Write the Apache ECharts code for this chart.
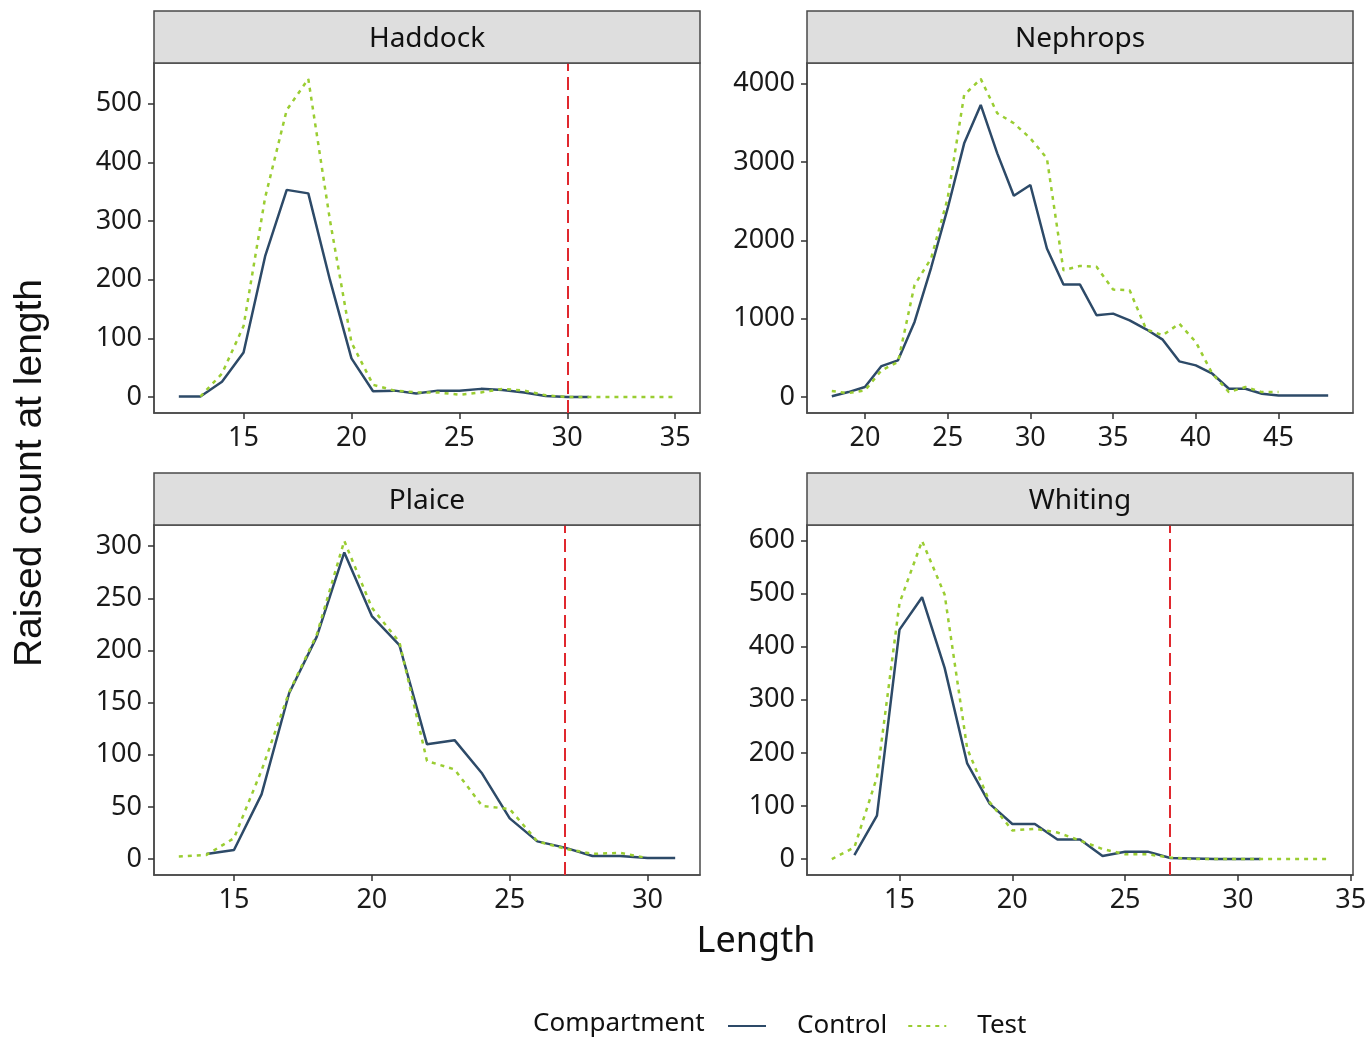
<!DOCTYPE html>
<html><head><meta charset="utf-8">
<script src="https://cdn.jsdelivr.net/npm/echarts@6/dist/echarts.min.js"></script>
<style>html,body{margin:0;padding:0;background:#fff}#c{width:1370px;height:1038px}</style>
</head><body><div id="c"></div>
<script>
// ---------- DATA ----------
const panelNames = ['Haddock', 'Nephrops', 'Plaice', 'Whiting'];
const seriesNames = ['Control', 'Test'];

const haddockControlLen = [12,13,14,15,16,17,18,19,20,21,22,23,24,25,26,27,28,29,30,31];
const haddockControl    = [1,1,26,76,240,353,347,200,66,10,11,6,11,11,14,12,8,2,0,0];
const haddockTestLen    = [13,14,15,16,17,18,19,20,21,22,23,24,25,26,27,28,29,30,31,32,33,34,35];
const haddockTest       = [1,40,121,340,489,542,302,93,21,11,8,8,4,8,14,11,3,0,0,0,0,0,0];

const nephropsControlLen = [18,19,20,21,22,23,24,25,26,27,28,29,30,31,32,33,34,35,36,37,38,39,40,41,42,43,44,45,46,47,48];
const nephropsControl    = [10,64,128,396,469,959,1650,2407,3238,3728,3110,2569,2706,1896,1436,1436,1044,1065,980,865,733,456,405,298,106,106,43,21,21,21,21];
const nephropsTestLen    = [18,19,20,21,22,23,24,25,26,27,28,29,30,31,32,33,34,35,36,37,38,39,40,41,42,43,44,45];
const nephropsTest       = [77,51,85,341,447,1430,1768,2535,3856,4060,3622,3494,3302,3046,1619,1674,1662,1372,1363,865,788,937,703,298,64,128,64,64];

const plaiceControlLen = [14,15,16,17,18,19,20,21,22,23,24,25,26,27,28,29,30,31];
const plaiceControl    = [4.8,8.7,62,159,213,294,233,205,110,114,82,39,17,11,3,3,1,1];
const plaiceTestLen    = [13,14,15,16,17,18,19,20,21,22,23,24,25,26,27,28,29,30];
const plaiceTest       = [2.6,4,20,85,160,215,305,241,208,94,86,51,48,17,10,5,6,1];

const whitingControlLen = [13,14,15,16,17,18,19,20,21,22,23,24,25,26,27,28,29,30,31];
const whitingControl    = [7.6,82,432,493,360,180,104,66,66,37,37,6,14,14,2,1,0,0,0];
const whitingTestLen    = [12,13,14,15,16,17,18,19,20,21,22,23,24,25,26,27,28,29,30,31,32,33,34];
const whitingTest       = [0,22,154,482,599,498,208,107,54,57,50,35,19,9,9,3,0,0,0,0,0,0,0];

// minimum landing size reference lines (null = none)
const cutoffs = [30, null, 27, 27];

const haddockXTicks  = [15,20,25,30,35];
const nephropsXTicks = [20,25,30,35,40,45];
const plaiceXTicks   = [15,20,25,30];
const whitingXTicks  = [15,20,25,30,35];
const haddockYTicks  = [0,100,200,300,400,500];
const nephropsYTicks = [0,1000,2000,3000,4000];
const plaiceYTicks   = [0,50,100,150,200,250,300];
const whitingYTicks  = [0,100,200,300,400,500,600];

// ---------- BUILD ----------
const panelData = [
  {cx: haddockControlLen, cy: haddockControl, tx: haddockTestLen, ty: haddockTest, xt: haddockXTicks, yt: haddockYTicks},
  {cx: nephropsControlLen, cy: nephropsControl, tx: nephropsTestLen, ty: nephropsTest, xt: nephropsXTicks, yt: nephropsYTicks},
  {cx: plaiceControlLen, cy: plaiceControl, tx: plaiceTestLen, ty: plaiceTest, xt: plaiceXTicks, yt: plaiceYTicks},
  {cx: whitingControlLen, cy: whitingControl, tx: whitingTestLen, ty: whitingTest, xt: whitingXTicks, yt: whitingYTicks}
];

const layout = [
  {left: 154, top: 63}, {left: 807, top: 63},
  {left: 154, top: 525}, {left: 807, top: 525}
];
const GW = 546, GH = 350, STRIP = 52;
const FONT = '"Noto Sans", "Open Sans", sans-serif';
const TXT = '#1a1a1a';
const FRAME = '#4a4a4a';
const CTRL = '#2d4a68';
const TEST = '#9acd32';

function expand(vals, includeZero) {
  let lo = Math.min(...vals), hi = Math.max(...vals);
  if (includeZero) lo = Math.min(lo, 0);
  const pad = (hi - lo) * 0.05;
  return [lo - pad, hi + pad];
}
const zip = (xs, ys) => xs.map((x, i) => [x, ys[i]]);

const grids = [], xAxes = [], yAxes = [], series = [], graphics = [];
panelData.forEach((p, i) => {
  const L = layout[i];
  grids.push({left: L.left, top: L.top, width: GW, height: GH, show: true,
    borderColor: FRAME, borderWidth: 1.5, backgroundColor: '#fff', containLabel: false});
  const xr = expand(p.cx.concat(p.tx), false);
  const yr = expand(p.cy.concat(p.ty), true);
  xAxes.push({type: 'value', gridIndex: i, min: xr[0], max: xr[1],
    axisLine: {show: true, onZero: false, lineStyle: {color: FRAME, width: 1.5}},
    axisTick: {show: true, length: 6, customValues: p.xt, lineStyle: {color: '#333', width: 1.5}},
    axisLabel: {customValues: p.xt, fontSize: 27, color: TXT, fontFamily: FONT, margin: 12,
      formatter: v => String(v)},
    splitLine: {show: false}});
  yAxes.push({type: 'value', gridIndex: i, min: yr[0], max: yr[1],
    axisLine: {show: true, onZero: false, lineStyle: {color: FRAME, width: 1.5}},
    axisTick: {show: true, length: 6, customValues: p.yt, lineStyle: {color: '#333', width: 1.5}},
    axisLabel: {customValues: p.yt, fontSize: 27, color: TXT, fontFamily: FONT, margin: 12,
      formatter: v => String(v)},
    splitLine: {show: false}});
  const ctrl = {name: seriesNames[0], type: 'line', xAxisIndex: i, yAxisIndex: i,
    data: zip(p.cx, p.cy), symbol: 'none', z: 3,
    lineStyle: {color: CTRL, width: 2.5}, itemStyle: {color: CTRL}};
  if (cutoffs[i] !== null) {
    ctrl.markLine = {silent: true, symbol: ['none', 'none'], label: {show: false},
      lineStyle: {color: '#e0282e', type: [13, 6], width: 2},
      data: [{xAxis: cutoffs[i]}]};
  }
  series.push(ctrl);
  series.push({name: seriesNames[1], type: 'line', xAxisIndex: i, yAxisIndex: i,
    data: zip(p.tx, p.ty), symbol: 'none', z: 4,
    lineStyle: {color: TEST, width: 2.5, type: [4, 5]}, itemStyle: {color: TEST}});
  graphics.push({type: 'rect', shape: {x: L.left, y: L.top - STRIP, width: GW, height: STRIP},
    style: {fill: '#dedede', stroke: FRAME, lineWidth: 1.5}, z: 10});
  graphics.push({type: 'text', x: L.left + GW / 2, y: L.top - STRIP / 2 + 2,
    style: {text: panelNames[i], fill: '#111', font: '28px ' + FONT, textAlign: 'center', textVerticalAlign: 'middle'}, z: 11});
});

graphics.push({type: 'text', x: 30, y: 473, rotation: Math.PI / 2,
  style: {text: 'Raised count at length', fill: '#111', font: '39px "Liberation Sans", Arial, sans-serif', textAlign: 'center', textVerticalAlign: 'middle'}});
graphics.push({type: 'text', x: 756, y: 942,
  style: {text: 'Length', fill: '#111', font: '36px ' + FONT, textAlign: 'center', textVerticalAlign: 'middle'}});
graphics.push({type: 'text', x: 533, y: 1024,
  style: {text: 'Compartment', fill: '#111', font: '26px ' + FONT, textAlign: 'left', textVerticalAlign: 'middle'}});

const chart = echarts.init(document.getElementById('c'));
chart.setOption({
  animation: false,
  backgroundColor: '#fff',
  grid: grids, xAxis: xAxes, yAxis: yAxes, series: series,
  legend: {data: seriesNames, left: 722, top: 1008, itemWidth: 38, itemHeight: 14, itemGap: 20,
    itemStyle: {opacity: 0},
    textStyle: {fontSize: 26, color: '#111', fontFamily: FONT, padding: [0, 0, 0, 26]}},
  graphic: graphics
});
</script></body></html>
